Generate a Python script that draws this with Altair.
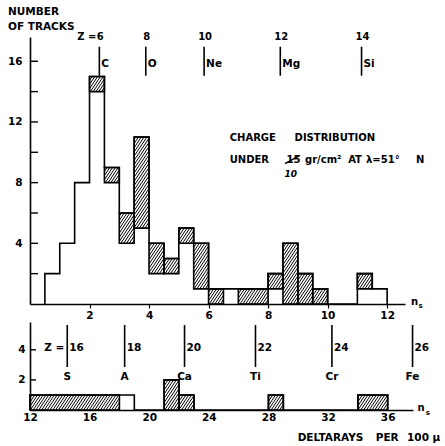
import math
import pandas as pd
import altair as alt

# ---------------- data ----------------
# upper panel: n_s bins (width 0.5); open part and hatched part of each bin
top_bin_start = [0.5, 1.0, 1.5, 2.0, 2.5, 3.0, 3.5, 4.0, 4.5, 5.0, 5.5, 6.0,
                 6.5, 7.0, 7.5, 8.0, 8.5, 9.0, 9.5, 10.0, 10.5, 11.0, 11.5]
top_open = [2, 4, 8, 14, 8, 4, 5, 2, 2, 4, 1, 0,
            1, 0, 0, 1, 0, 0, 0, 0, 0, 1, 1]
top_hatched = [0, 0, 0, 1, 1, 2, 6, 2, 1, 1, 3, 1,
               0, 1, 1, 1, 4, 2, 1, 0, 0, 1, 0]
top_bin_width = 0.5

# lower panel: bins of width 1 (deltarays per 100 micron)
bot_bin_start = list(range(12, 36))
bot_open = [0, 0, 0, 0, 0, 0, 1, 0, 0, 0, 0, 0,
            0, 0, 0, 0, 0, 0, 0, 0, 0, 0, 0, 0]
bot_hatched = [1, 1, 1, 1, 1, 1, 0, 0, 0, 2, 1, 0,
               0, 0, 0, 0, 1, 0, 0, 0, 0, 0, 1, 1]
bot_bin_width = 1

# element markers
top_z = ["6", "8", "10", "12", "14"]
top_el = ["C", "O", "Ne", "Mg", "Si"]
top_pos = [2.33, 3.89, 5.85, 8.41, 11.14]

bot_z = ["16", "18", "20", "22", "24", "26"]
bot_el = ["S", "A", "Ca", "Ti", "Cr", "Fe"]
bot_pos = [14.5, 18.35, 22.37, 27.13, 32.26, 37.67]

top_xticks = [2, 4, 6, 8, 10, 12]
top_yticks = [4, 8, 12, 16]
top_minor = [2, 4, 6, 8, 10, 12, 14, 16]
bot_xticks = [12, 16, 20, 24, 28, 32, 36]
bot_yticks = [2, 4]

# ---------------- layout constants ----------------
TOP_XDOM = [0, 12.6]
TOP_YDOM = [0, 17.6]
TOP_W, TOP_H = 375, 267
BOT_XDOM = [12, 37.7]
BOT_YDOM = [0, 5.85]
BOT_W, BOT_H = 383, 88

FONT = "DejaVu Sans"
LW = 1.6


def rects(starts, opens, hats, w):
    out = []
    for s, o, h in zip(starts, opens, hats):
        if h <= 0:
            continue
        if out and abs(out[-1]["x2"] - s) < 1e-9 and out[-1]["y"] == o and out[-1]["y2"] == o + h:
            out[-1]["x2"] = s + w
        else:
            out.append({"x": s, "x2": s + w, "y": o, "y2": o + h})
    return out


def hatch(rs, sx, sy, spacing=2.8, slope=1.5):
    segs = []
    for r in rs:
        X0, X1 = r["x"] * sx, r["x2"] * sx
        Y0, Y1 = r["y"] * sy, r["y2"] * sy
        k0 = math.floor((X0 - Y1 / slope) / spacing)
        k1 = math.ceil((X1 - Y0 / slope) / spacing)
        for k in range(k0, k1 + 1):
            c = k * spacing
            lo = max(Y0, slope * (X0 - c))
            hi = min(Y1, slope * (X1 - c))
            if hi - lo > 0.4:
                segs.append({"x": (c + lo / slope) / sx, "y": lo / sy,
                             "x2": (c + hi / slope) / sx, "y2": hi / sy})
    return pd.DataFrame(segs)


def step(starts, opens, hats, w):
    pts = [{"x": starts[0], "y": 0, "o": 0}]
    for i, (s, o, h) in enumerate(zip(starts, opens, hats)):
        pts.append({"x": s, "y": o + h, "o": i + 1})
    pts.append({"x": starts[-1] + w, "y": 0, "o": len(starts) + 1})
    return pd.DataFrame(pts)


def panel(starts, opens, hats, w, xdom, ydom, W, H, xticks, yticks, minor,
          xaxis_kw, yaxis_kw, tick_len):
    sx = W / (xdom[1] - xdom[0])
    sy = H / (ydom[1] - ydom[0])
    xs = alt.Scale(domain=xdom, nice=False, zero=False)
    ys = alt.Scale(domain=ydom, nice=False, zero=False)
    xax = alt.Axis(values=xticks, title=None, grid=False, labelFont=FONT, labelFontWeight="bold",
                   labelFontSize=10.5, labelColor="black", domainColor="black", domainWidth=LW,
                   tickColor="black", tickWidth=1.2, labelFlush=False, **xaxis_kw)
    yax = alt.Axis(values=yticks, title=None, grid=False, ticks=False, labelFont=FONT,
                   labelFontWeight="bold", labelFontSize=10.5, labelColor="black",
                   domainColor="black", domainWidth=LW, labelFlush=False, **yaxis_kw)

    def X(f):
        return alt.X(f, type="quantitative", scale=xs, axis=xax)

    def Y(f):
        return alt.Y(f, type="quantitative", scale=ys, axis=yax)

    rs = rects(starts, opens, hats, w)
    rdf = pd.DataFrame(rs)
    hdf = hatch(rs, sx, sy)
    sdf = step(starts, opens, hats, w)

    lay = []
    lay.append(alt.Chart(hdf).mark_rule(color="black", strokeWidth=1.0).encode(
        x=X("x"), x2="x2", y=Y("y"), y2="y2"))
    lay.append(alt.Chart(rdf).mark_rect(fill="transparent", stroke="black", strokeWidth=LW).encode(
        x=X("x"), x2="x2", y=Y("y"), y2="y2"))
    lay.append(alt.Chart(sdf).mark_line(color="black", strokeWidth=LW, interpolate="step-after").encode(
        x=X("x"), y=Y("y"), order="o:Q"))
    lay.append(alt.Chart(pd.DataFrame({"v": minor})).mark_rule(color="black", strokeWidth=1.4).encode(
        x=alt.value(0), x2=alt.value(tick_len), y=Y("v")))
    return lay, X, Y


top_layers, TX, TY = panel(top_bin_start, top_open, top_hatched, top_bin_width,
                           TOP_XDOM, TOP_YDOM, TOP_W, TOP_H, top_xticks, top_yticks, top_minor,
                           dict(ticks=True, tickSize=4, labelPadding=2),
                           dict(labelPadding=8), 8)

bot_layers, BX, BY = panel(bot_bin_start, bot_open, bot_hatched, bot_bin_width,
                           BOT_XDOM, BOT_YDOM, BOT_W, BOT_H, bot_xticks, bot_yticks, bot_yticks,
                           dict(ticks=False, labelPadding=2),
                           dict(labelPadding=5), 6)


def txt(df, X, Y, size=11, align="left", baseline="middle", dx=0, dy=0, style="normal"):
    return alt.Chart(df).mark_text(font=FONT, fontWeight="bold", fontSize=size, align=align,
                                   baseline=baseline, dx=dx, dy=dy, color="black",
                                   fontStyle=style).encode(x=X("x"), y=Y("y"), text="t:N")


# ---- upper panel annotations ----
tm = pd.DataFrame({"x": top_pos, "z": top_z, "el": top_el})
top_layers.append(alt.Chart(tm.assign(y=15.05, y2=16.96)).mark_rule(color="black", strokeWidth=LW).encode(
    x=TX("x"), y=TY("y"), y2="y2"))
top_layers.append(txt(tm.assign(y=17.62, t=tm["z"]), TX, TY, size=10, align="center", dx=1))
top_layers.append(txt(tm.assign(y=15.8, t=tm["el"]), TX, TY, size=10.5, align="left", dx=2))
top_layers.append(txt(pd.DataFrame({"x": [top_pos[0]], "y": [17.62], "t": ["Z ="]}), TX, TY,
                      size=10, align="right", dx=-3))
top_layers.append(txt(pd.DataFrame({"x": [-0.74, -0.74], "y": [19.27, 18.28],
                                    "t": ["NUMBER", "OF TRACKS"]}), TX, TY, size=10.5))
top_layers.append(txt(pd.DataFrame({"x": [6.71, 8.89], "y": [10.92, 10.92],
                                    "t": ["CHARGE", "DISTRIBUTION"]}), TX, TY, size=10))
top_layers.append(txt(pd.DataFrame({"x": [6.71, 8.62, 9.24, 10.69, 11.29, 12.97],
                                    "y": [9.5, 9.5, 9.5, 9.5, 9.5, 9.5],
                                    "t": ["UNDER", "15", "gr/cm²", "AT", "λ=51°", "N"]}), TX, TY, size=10))
top_layers.append(txt(pd.DataFrame({"x": [8.55], "y": [8.6], "t": ["10"]}), TX, TY, size=9, style="italic"))
top_layers.append(alt.Chart(pd.DataFrame({"x": [8.57], "x2": [9.07], "y": [9.25], "y2": [9.8]})).mark_rule(
    color="black", strokeWidth=1.5).encode(x=TX("x"), x2="x2", y=TY("y"), y2="y2"))
top_layers.append(txt(pd.DataFrame({"x": [12.8], "y": [0.15], "t": ["n"]}), TX, TY, size=10))
top_layers.append(txt(pd.DataFrame({"x": [13.05], "y": [-0.15], "t": ["s"]}), TX, TY, size=7))

# ---- lower panel annotations ----
bm = pd.DataFrame({"x": bot_pos, "z": bot_z, "el": bot_el})
bot_layers.append(alt.Chart(bm.assign(y=2.86, y2=5.65)).mark_rule(color="black", strokeWidth=LW).encode(
    x=BX("x"), y=BY("y"), y2="y2"))
bot_layers.append(txt(bm.assign(y=4.12, t=bm["z"]), BX, BY, size=10.5, align="left", dx=2))
bot_layers.append(txt(bm.assign(y=2.2, t=bm["el"]), BX, BY, size=10.5, align="center"))
bot_layers.append(txt(pd.DataFrame({"x": [bot_pos[0]], "y": [4.12], "t": ["Z ="]}), BX, BY,
                      size=10.5, align="right", dx=-3))
bot_layers.append(txt(pd.DataFrame({"x": [38.0], "y": [0.1], "t": ["n"]}), BX, BY, size=10))
bot_layers.append(txt(pd.DataFrame({"x": [38.55], "y": [-0.2], "t": ["s"]}), BX, BY, size=7))
bot_layers.append(txt(pd.DataFrame({"x": [29.96, 35.2, 37.3], "y": [-1.84, -1.84, -1.84],
                                    "t": ["DELTARAYS", "PER", "100 μ"]}), BX, BY, size=10.5))

top = alt.layer(*top_layers).properties(width=TOP_W, height=TOP_H)
bot = alt.layer(*bot_layers).properties(width=BOT_W, height=BOT_H)

chart = alt.vconcat(top, bot, spacing=18, bounds="flush").properties(
    padding={"left": 7, "top": 6, "right": 0, "bottom": 0},
    background="white",
).configure_view(stroke=None)

chart.save("out.html", embed_options={"renderer": "svg", "actions": False})
